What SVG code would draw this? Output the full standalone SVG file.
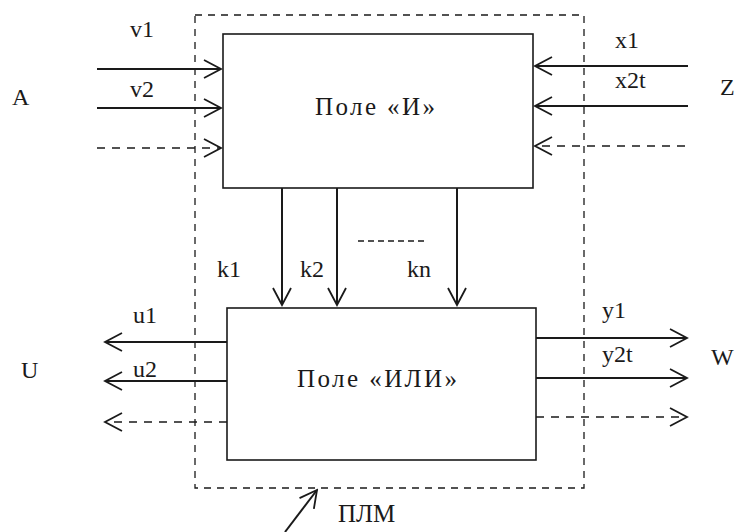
<svg xmlns="http://www.w3.org/2000/svg" width="735" height="532" viewBox="0 0 735 532">
<style>
.box{fill:none;stroke:#1a1a1a;stroke-width:1.6}
.frame{fill:none;stroke:#1a1a1a;stroke-width:1.3;stroke-dasharray:7 6}
.ln{fill:none;stroke:#1a1a1a;stroke-width:2}
.dl{fill:none;stroke:#1a1a1a;stroke-width:1.6;stroke-dasharray:8 7}
text{font-family:'Liberation Serif','DejaVu Serif',serif;fill:#1a1a1a}
.t{font-size:24px}
.tb{font-size:25px}
</style>
<defs>
<marker id="ah" markerUnits="userSpaceOnUse" viewBox="0 0 20 22" refX="18" refY="11" markerWidth="20" markerHeight="22" orient="auto">
<path d="M1,2 L18,11 L1,20" fill="none" stroke="#1a1a1a" stroke-width="1.8"/>
</marker>
</defs>
<rect width="735" height="532" fill="#fff"/>
<g id="plm-frame">
<rect class="frame" x="195" y="15" width="389" height="473"/>
</g>
<g id="and-field">
<rect class="box" x="223" y="34" width="310" height="154"/>
<text class="tb" x="315" y="115" font-family="Liberation Serif, DejaVu Serif, serif" textLength="120">Поле «И»</text>
</g>
<g id="or-field">
<rect class="box" x="227" y="308" width="309" height="152"/>
<text class="tb" x="297" y="387" font-family="Liberation Serif, DejaVu Serif, serif" textLength="160">Поле «ИЛИ»</text>
</g>
<g id="connectors">
<line class="ln" x1="97" y1="69" x2="221" y2="69" marker-end="url(#ah)"/>
<line class="ln" x1="97" y1="108" x2="221" y2="108" marker-end="url(#ah)"/>
<line class="dl" x1="97" y1="148" x2="221" y2="148" marker-end="url(#ah)"/>
<line class="ln" x1="688" y1="66" x2="535" y2="66" marker-end="url(#ah)"/>
<line class="ln" x1="688" y1="106" x2="535" y2="106" marker-end="url(#ah)"/>
<line class="dl" x1="685" y1="146" x2="535" y2="146" marker-end="url(#ah)"/>
<line class="ln" x1="282" y1="188" x2="282" y2="305" marker-end="url(#ah)"/>
<line class="ln" x1="337" y1="188" x2="337" y2="305" marker-end="url(#ah)"/>
<line class="ln" x1="457" y1="188" x2="457" y2="305" marker-end="url(#ah)"/>
<line class="ln" x1="227" y1="342" x2="105" y2="342" marker-end="url(#ah)"/>
<line class="ln" x1="227" y1="381" x2="105" y2="381" marker-end="url(#ah)"/>
<line class="dl" x1="227" y1="422" x2="105" y2="422" marker-end="url(#ah)"/>
<line class="ln" x1="536" y1="338" x2="687" y2="338" marker-end="url(#ah)"/>
<line class="ln" x1="536" y1="378" x2="687" y2="378" marker-end="url(#ah)"/>
<line class="dl" x1="536" y1="417" x2="687" y2="417" marker-end="url(#ah)"/>
<line class="ln" x1="285" y1="532" x2="317" y2="490" marker-end="url(#ah)"/>
<line x1="358" y1="241" x2="428" y2="241" stroke="#1a1a1a" stroke-width="1.4" stroke-dasharray="6 4"/>
</g>
<g id="labels">
<text class="t" x="130" y="37">v1</text>
<text class="t" x="130" y="97">v2</text>
<text class="t" x="12" y="105">A</text>
<text class="t" x="615" y="48">x1</text>
<text class="t" x="615" y="88">x2t</text>
<text class="t" x="720" y="95">Z</text>
<text class="t" x="217" y="277">k1</text>
<text class="t" x="300" y="277">k2</text>
<text class="t" x="407" y="277">kn</text>
<text class="t" x="133" y="323">u1</text>
<text class="t" x="133" y="377">u2</text>
<text class="t" x="21" y="378">U</text>
<text class="t" x="602" y="318">y1</text>
<text class="t" x="602" y="362">y2t</text>
<text class="t" x="711" y="365">W</text>
<text class="tb" x="338" y="522">ПЛМ</text>
</g>
</svg>
